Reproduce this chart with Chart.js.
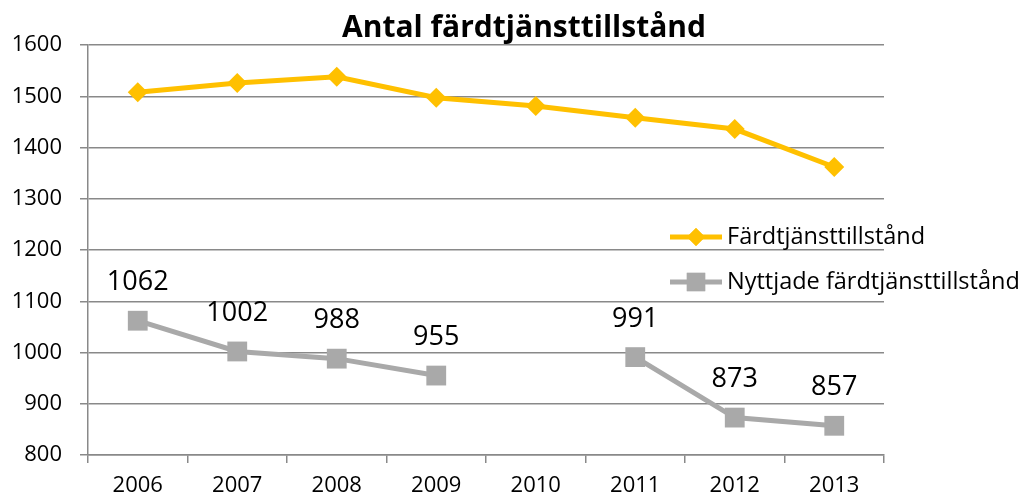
<!DOCTYPE html>
<html><head><meta charset="utf-8">
<script src="https://cdn.jsdelivr.net/npm/chart.js@4/dist/chart.umd.min.js"></script>
<style>html,body{margin:0;padding:0;background:#fff}#wrap{width:1024px;height:498px;position:relative}</style>
</head><body><div id="wrap"><canvas id="c" width="1024" height="498"></canvas></div>
<script>
const chartTitle = 'Antal färdtjänsttillstånd';
const categories = ['2006','2007','2008','2009','2010','2011','2012','2013'];
const permits = [1508,1526,1538,1497,1481,1458,1436,1362];
const usedPermits = [1062,1002,988,955,null,991,873,857];
const seriesNames = ['Färdtjänsttillstånd','Nyttjade färdtjänsttillstånd'];
const yMin = 800, yMax = 1600, yStep = 100;

const FONT = '"Open Sans", sans-serif';
const YELLOW = '#FFC000';
const GRAY = '#A9A9A9';
const GRID = '#898989';

const extras = {
  id: 'extras',
  afterDraw(chart) {
    const ctx = chart.ctx;
    ctx.save();
    // title
    ctx.fillStyle = '#000';
    ctx.font = 'bold 30px ' + FONT;
    ctx.textAlign = 'center';
    ctx.textBaseline = 'middle';
    ctx.fillText(chartTitle, 524, 28);
    // data labels for second series
    const meta = chart.getDatasetMeta(1);
    ctx.font = '27px ' + FONT;
    meta.data.forEach((p, i) => {
      const v = usedPermits[i];
      if (v === null || v === undefined) return;
      ctx.fillText(String(v), p.x, p.y - 38);
    });
    // legend
    const items = [
      {name: seriesNames[0], color: YELLOW, style: 'rectRot', r: 9, y: 237},
      {name: seriesNames[1], color: GRAY, style: 'rect', r: 13, y: 282}
    ];
    items.forEach(it => {
      ctx.strokeStyle = it.color;
      ctx.lineWidth = 5;
      ctx.beginPath();
      ctx.moveTo(670, it.y);
      ctx.lineTo(722, it.y);
      ctx.stroke();
      ctx.fillStyle = it.color;
      Chart.helpers.drawPoint(ctx, {pointStyle: it.style, radius: it.r, borderWidth: 0}, 696, it.y);
      ctx.fill();
      ctx.fillStyle = '#000';
      ctx.font = '23.5px ' + FONT;
      ctx.textAlign = 'left';
      ctx.textBaseline = 'middle';
      ctx.fillText(it.name, 727, it.y);
    });
    ctx.restore();
  }
};

new Chart(document.getElementById('c'), {
  type: 'line',
  data: {
    labels: categories,
    datasets: [
      {label: seriesNames[0], data: permits, borderColor: YELLOW, backgroundColor: YELLOW,
       borderWidth: 5, pointStyle: 'rectRot', pointRadius: 10, pointBorderWidth: 0,
       pointBackgroundColor: YELLOW, tension: 0},
      {label: seriesNames[1], data: usedPermits, borderColor: GRAY, backgroundColor: GRAY,
       borderWidth: 5, pointStyle: 'rect', pointRadius: 14, pointBorderWidth: 0,
       pointBackgroundColor: GRAY, tension: 0, spanGaps: false}
    ]
  },
  options: {
    responsive: false,
    animation: false,
    devicePixelRatio: 1,
    layout: {padding: {top: 45, right: 140, left: 0, bottom: 0}},
    plugins: {legend: {display: false}, title: {display: false}, tooltip: {enabled: false}},
    scales: {
      x: {
        offset: true,
        grid: {offset: true, drawOnChartArea: false, drawTicks: true, tickLength: 8, color: GRID, lineWidth: 1.5},
        border: {color: GRID, width: 1.5},
        ticks: {color: '#000', font: {family: FONT, size: 22}, padding: 10, maxRotation: 0},
        afterFit(s) { s.height = 43; }
      },
      y: {
        min: yMin, max: yMax,
        grid: {color: GRID, tickLength: 8, lineWidth: 1.5},
        border: {color: GRID, width: 1.5},
        ticks: {stepSize: yStep, color: '#000', font: {family: FONT, size: 22}, padding: 18,
                callback: v => String(v)},
        afterFit(s) { s.width = 88; }
      }
    }
  },
  plugins: [extras]
});
</script>
</body></html>
